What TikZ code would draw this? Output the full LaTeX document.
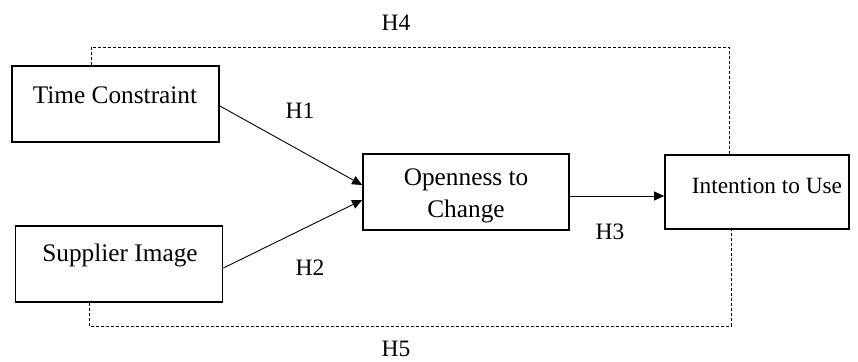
\documentclass[tikz,border=0pt]{standalone}
\usepackage{fontspec}
\setmainfont{Liberation Serif}
\usetikzlibrary{arrows.meta}
\begin{document}
\begin{tikzpicture}[x=1pt,y=-1pt,
  box/.style={draw=black, line width=1.8pt, rectangle, inner sep=0pt},
  txt/.style={font=\fontsize{25.3}{32}\selectfont, inner sep=0pt, align=center},
  hlab/.style={font=\fontsize{23.5}{28}\selectfont, inner sep=0pt},
  arr/.style={draw=black, line width=0.9pt, -{Triangle[length=10pt,width=9pt]}},
  dline/.style={draw=black, line width=0.8pt, dash pattern=on 3pt off 2pt}]
\useasboundingbox (0,0) rectangle (858,361);
\node[box, minimum width=207pt, minimum height=76pt] (tc) at (115.5,104) {};
\node[txt] (tct) at (115,95) {Time Constraint};
\node[box, minimum width=207pt, minimum height=76pt] (si) at (119,264) {};
\node[txt] (sit) at (120,255) {Supplier Image};
\node[box, minimum width=206pt, minimum height=76pt] (oc) at (466,192) {};
\node[txt] (oct) at (466,196) {Openness to\\Change};
\node[box, minimum width=184pt, minimum height=74pt] (io) at (757,192) {};
\node[txt, font=\fontsize{23.3}{28}\selectfont] (iot) at (767,186) {Intention to Use};
% connectors
\draw[arr] ([yshift=-2pt]tc.east) -- ([yshift=7pt]oc.west);
\draw[arr] ([yshift=-4pt]si.east) -- ([yshift=-8pt]oc.west);
\draw[arr] ([yshift=-4pt]oc.east) -- ([yshift=-4pt]io.west);
% dashed paths
\coordinate (h4l) at (91,47);
\coordinate (h4r) at (729,47);
\coordinate (h5l) at (89,326);
\coordinate (h5r) at (731,326);
\draw[dline] (tc.north -| h4l) -- (h4l) -- (h4r) -- (h4r |- io.north);
\draw[dline] (si.south -| h5l) -- (h5l) -- (h5r) -- (h5r |- io.south);
% labels
\node[hlab] (l4) at (396,23) {H4};
\node[hlab] (l1) at (300,111) {H1};
\node[hlab] (l2) at (310,268) {H2};
\node[hlab] (l3) at (610,232) {H3};
\node[hlab] (l5) at (396,349) {H5};
\end{tikzpicture}
\end{document}
